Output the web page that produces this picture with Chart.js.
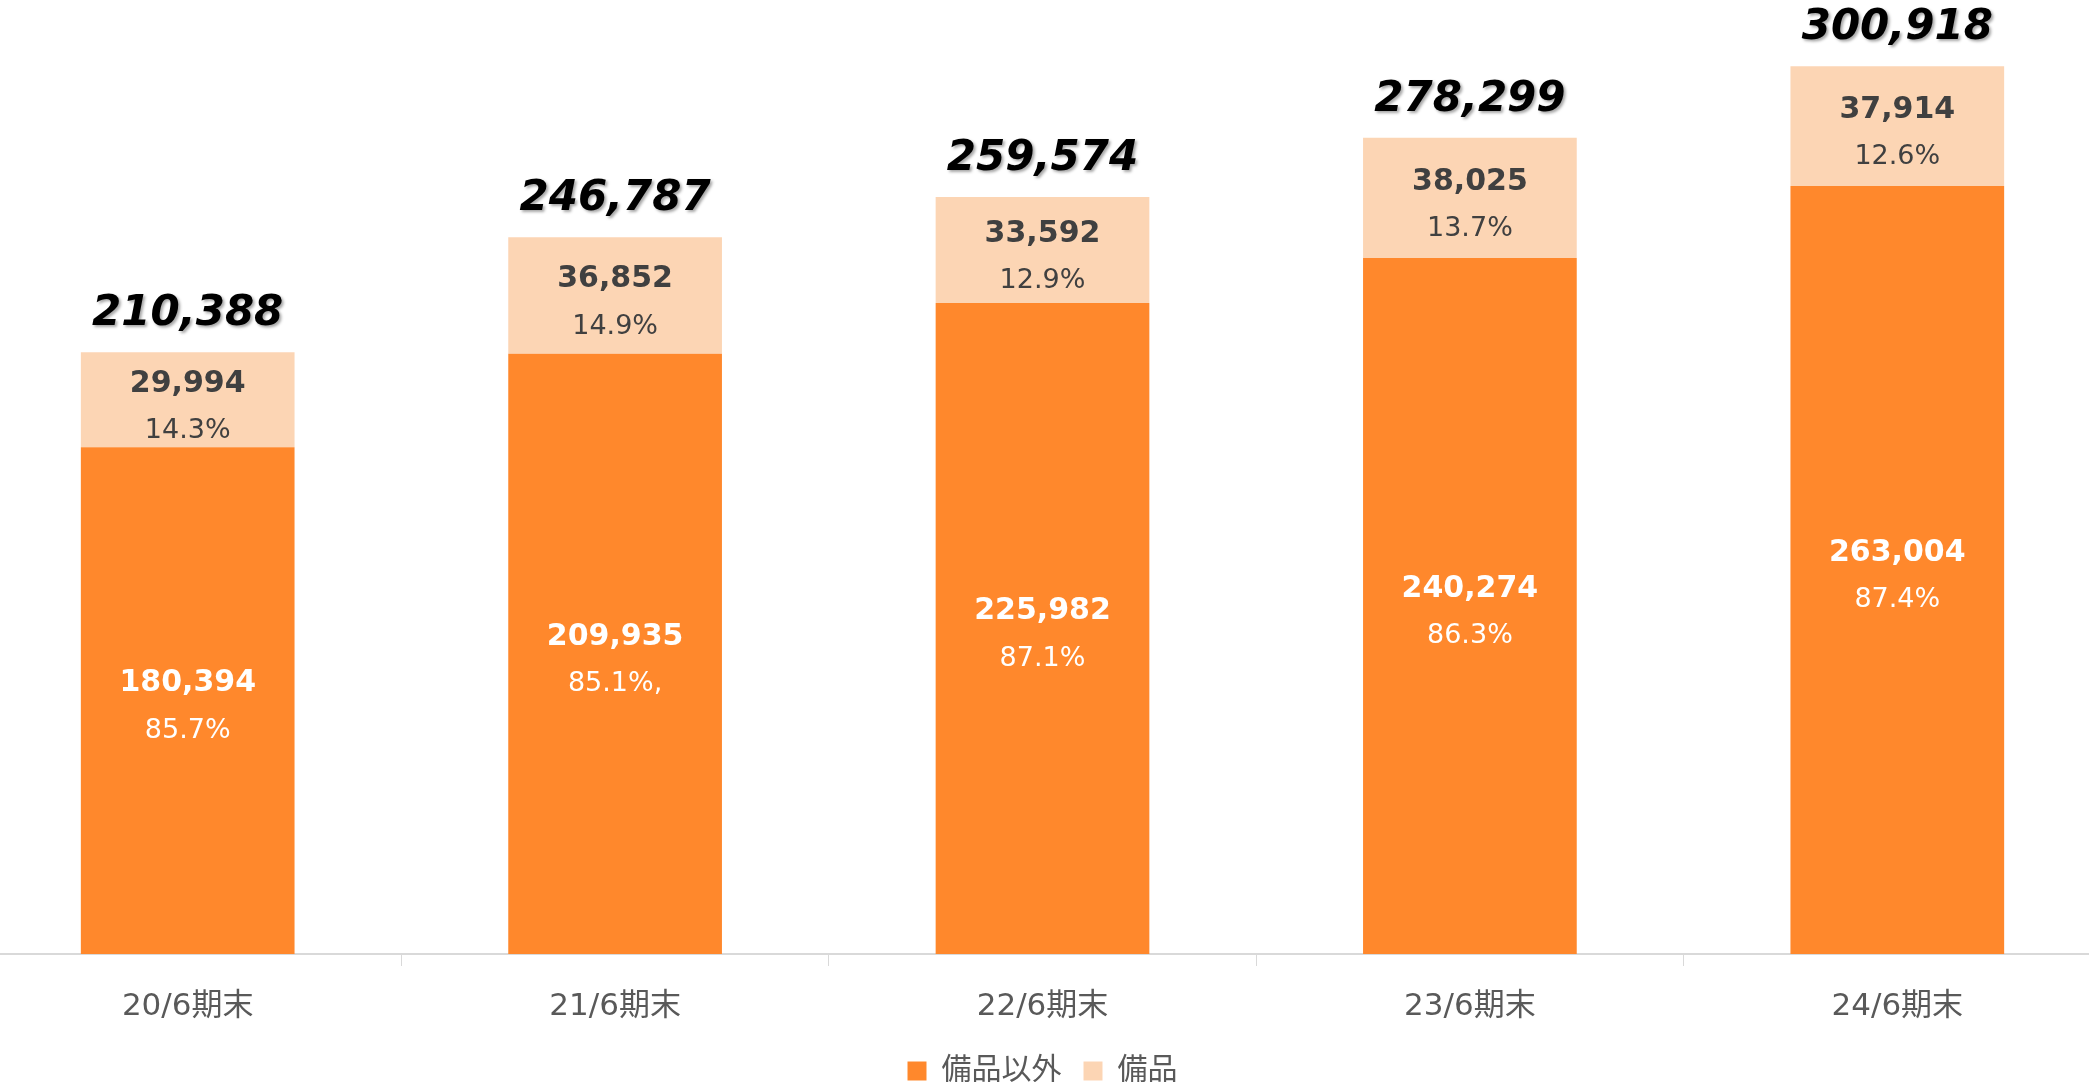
<!DOCTYPE html>
<html>
<head>
<meta charset="utf-8">
<script src="https://cdn.jsdelivr.net/npm/chart.js@4.4.1/dist/chart.umd.min.js"></script>
<style>
  html, body { margin: 0; padding: 0; background: #fff; overflow: hidden; }
  #wrap { position: absolute; left: -26px; top: 0; width: 2137px; height: 1096px; }
</style>
</head>
<body>
<div id="wrap"><canvas id="stock-graph"></canvas></div>
<script>
const labels = ['20/6期末', '21/6期末', '22/6期末', '23/6期末', '24/6期末']
const otherValues = [180394, 209935, 225982, 240274, 263004]
const fixtureValues = [29994, 36852, 33592, 38025, 37914]
const otherPct = ['85.7%', '85.1%,', '87.1%', '86.3%', '87.4%']
const fixturePct = ['14.3%', '14.9%', '12.9%', '13.7%', '12.6%']
const yMin = 20000
const yMax = 320000

const numFont = "'DejaVu Sans', 'Noto Sans CJK JP', sans-serif"
const fmt = v => v.toLocaleString('en-US')

// values, percentages and totals written on the bars
const barLabels = {
  id: 'barLabels',
  afterDatasetsDraw(chart) {
    const ctx = chart.ctx
    const bottom = chart.chartArea.bottom
    const lower = chart.getDatasetMeta(0).data
    const upper = chart.getDatasetMeta(1).data
    ctx.save()
    ctx.textAlign = 'center'
    ctx.textBaseline = 'middle'
    lower.forEach((bar, i) => {
      // axis starts above zero, so the bar base sits below the chart area
      const mid = (bar.y + Math.min(bar.base, bottom)) / 2
      ctx.fillStyle = '#ffffff'
      ctx.font = 'bold 30px ' + numFont
      ctx.fillText(fmt(otherValues[i]), bar.x, mid - 17)
      ctx.font = '27px ' + numFont
      ctx.fillText(otherPct[i], bar.x, mid + 30)
    })
    upper.forEach((bar, i) => {
      const mid = (bar.y + bar.base) / 2
      ctx.fillStyle = '#404040'
      ctx.font = 'bold 30px ' + numFont
      ctx.fillText(fmt(fixtureValues[i]), bar.x, mid - 16)
      ctx.font = '27px ' + numFont
      ctx.fillText(fixturePct[i], bar.x, mid + 31)
    })
    upper.forEach((bar, i) => {
      ctx.save()
      ctx.shadowColor = 'rgba(0, 0, 0, 0.35)'
      ctx.shadowOffsetX = 2
      ctx.shadowOffsetY = 2
      ctx.shadowBlur = 3
      ctx.fillStyle = '#000000'
      ctx.font = 'italic bold 42px ' + numFont
      ctx.fillText(fmt(otherValues[i] + fixtureValues[i]), bar.x, bar.y - 38)
      ctx.restore()
    })
    ctx.restore()
  }
}

var ctx = document.getElementById('stock-graph').getContext('2d')

var barChart = new Chart(ctx, {
  type: 'bar',
  data: {
    labels: labels,
    datasets: [{
      label: '備品以外',
      data: otherValues,
      backgroundColor: '#ff882c',
      borderWidth: 0,
      barPercentage: 0.5,
      categoryPercentage: 1
    }, {
      label: '備品',
      data: fixtureValues,
      backgroundColor: '#fcd5b4',
      borderWidth: 0,
      barPercentage: 0.5,
      categoryPercentage: 1
    }]
  },
  options: {
    responsive: true,
    maintainAspectRatio: false,
    animation: false,
    layout: { padding: { top: 6, left: 0, right: 0, bottom: 0 } },
    scales: {
      x: {
        stacked: true,
        afterFit: scale => { scale.height = 80 },
        grid: {
          offset: true,
          drawOnChartArea: false,
          drawTicks: true,
          tickLength: 12,
          color: '#d9d9d9'
        },
        border: { color: '#d9d9d9', width: 2 },
        ticks: {
          color: '#595959',
          padding: 22,
          font: { family: numFont, size: 31 }
        }
      },
      y: {
        stacked: true,
        display: false,
        min: yMin,
        max: yMax
      }
    },
    plugins: {
      legend: {
        position: 'bottom',
        labels: {
          color: '#595959',
          boxWidth: 19,
          boxHeight: 19,
          padding: 22,
          font: { family: numFont, size: 30 }
        }
      },
      tooltip: { enabled: false }
    }
  },
  plugins: [barLabels]
})
</script>
</body>
</html>
